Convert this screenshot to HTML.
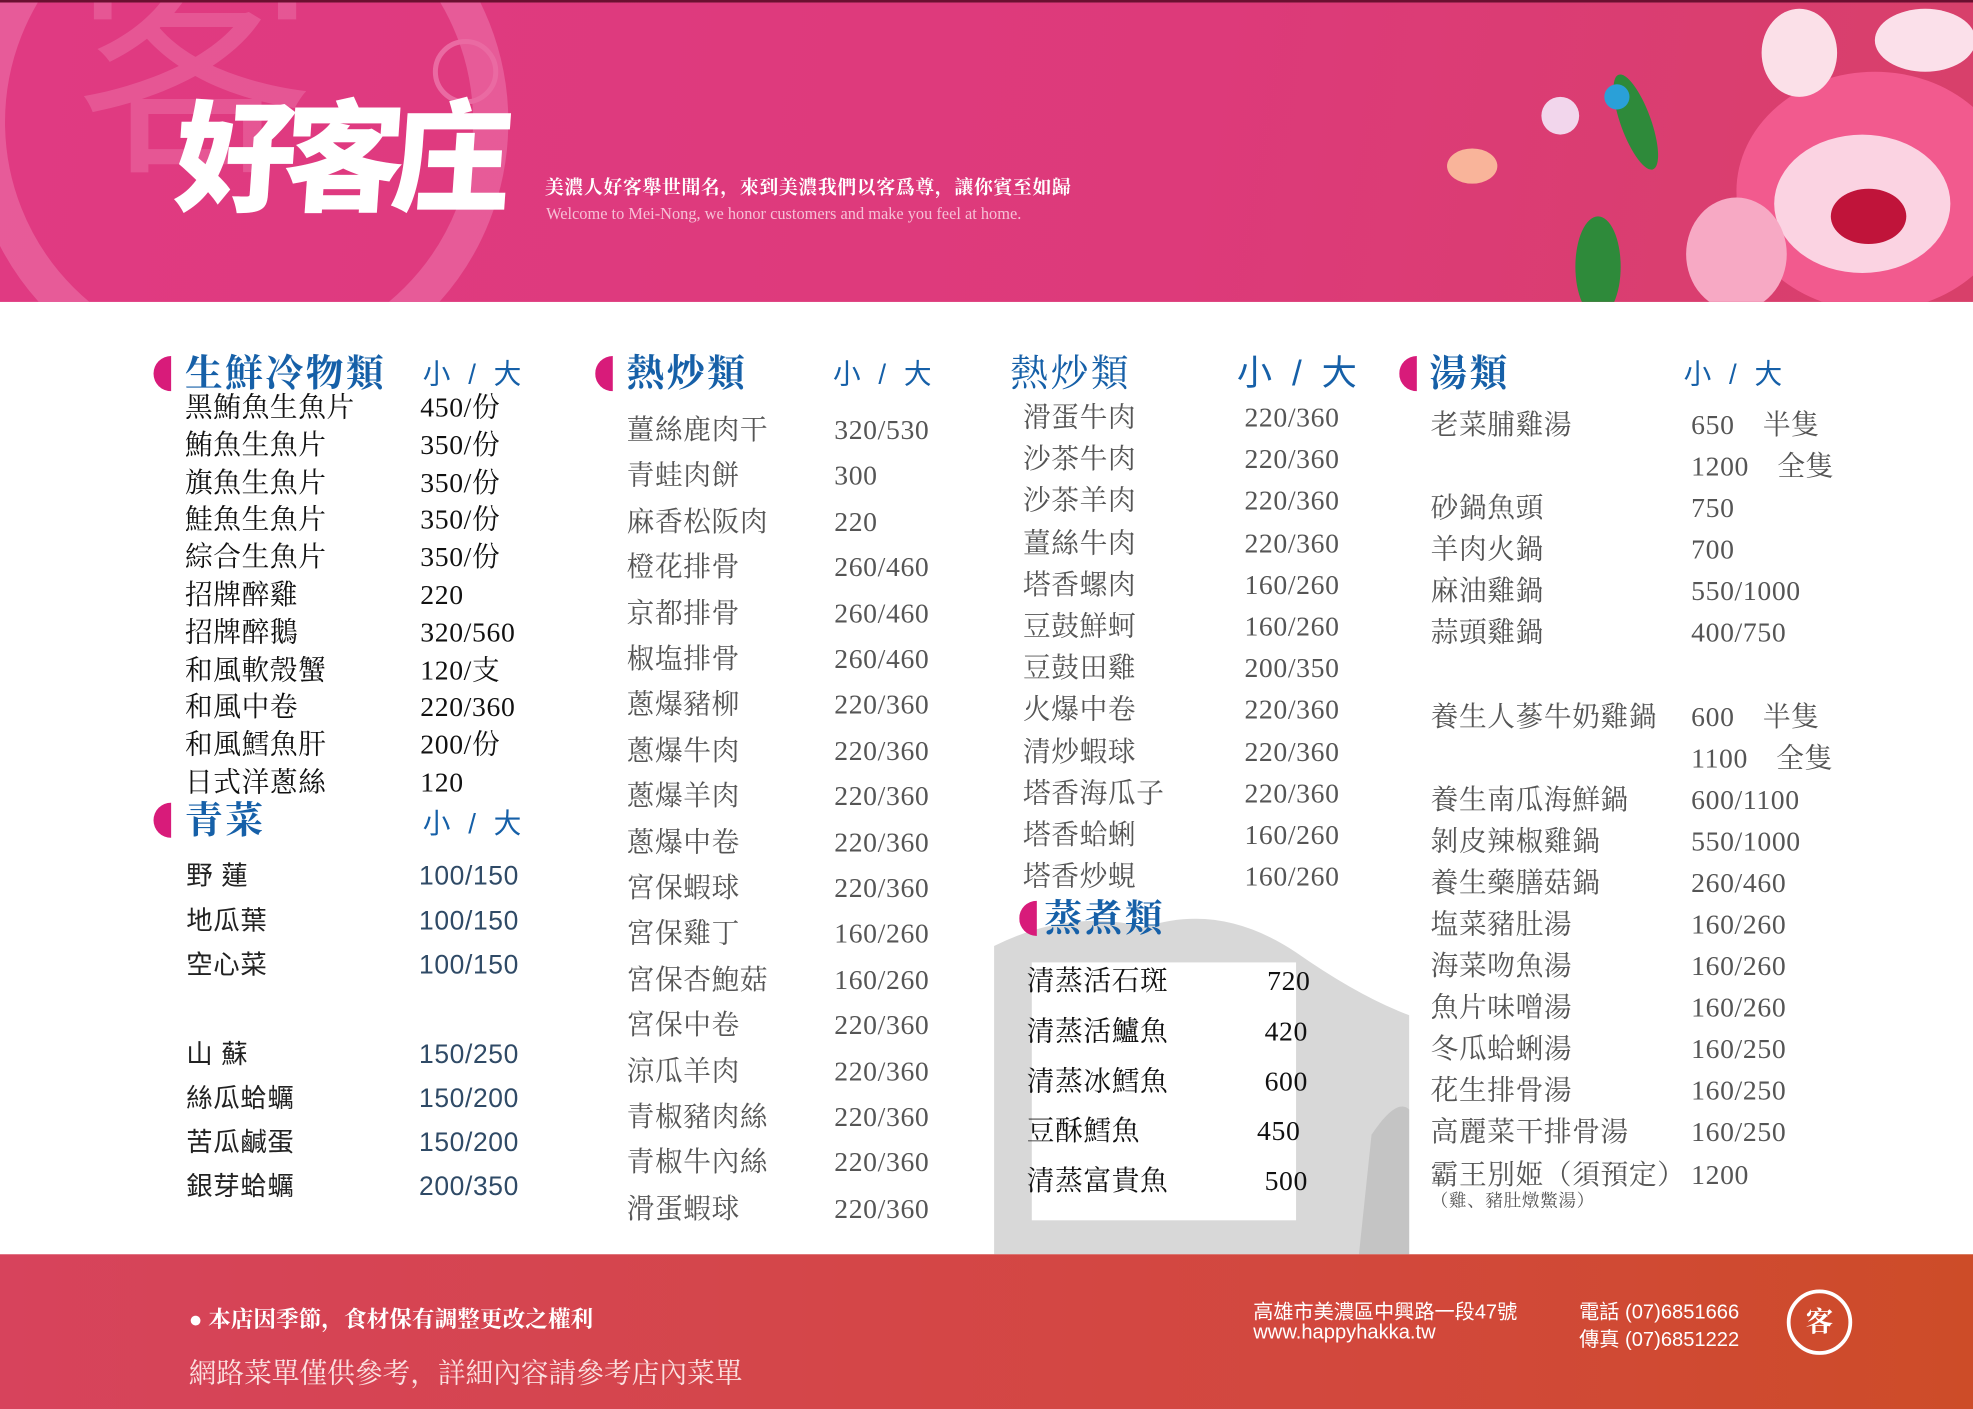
<!DOCTYPE html>
<html><head><meta charset="utf-8">
<style>
html,body{margin:0;padding:0;width:1973px;height:1409px;overflow:hidden;background:#fff}
#wrap{position:absolute;left:0;top:0;width:1568px;height:1120px;transform:scale(1.25829,1.25804);transform-origin:0 0;background:#fff;overflow:hidden;font-family:"Liberation Serif","Noto Serif CJK SC",serif}
.abs{position:absolute;white-space:nowrap}
#hdr{left:0;top:0;width:1568px;height:238px;background:linear-gradient(100deg,#e03a82 0%,#dd3a7a 60%,#d8406a 100%);border-top:2px solid #6a1030}
#ftr{left:0;top:997px;width:1568px;height:123px;background:linear-gradient(90deg,#d7435c 0%,#d2483c 70%,#cd4c28 100%)}
.dot{position:absolute;width:28px;height:28px;border-radius:50%;background:#d81b7a;clip-path:inset(0 50% 0 0)}
.ttl{position:absolute;color:#1660a8;font-weight:bold;font-size:30px;line-height:30px;letter-spacing:2px;font-family:"Liberation Serif","Noto Serif CJK SC",serif}
.sz{position:absolute;color:#1660a8;font-size:22px;line-height:22px;font-family:"Liberation Sans","Noto Sans CJK SC",sans-serif;word-spacing:8px}
.it{position:absolute;font-size:22px;line-height:24px;white-space:nowrap;letter-spacing:0.5px}
</style></head><body>
<div id="wrap">
<div id="hdr" class="abs">
  <svg class="abs" style="left:0;top:0" width="420" height="238">
    <circle cx="190" cy="95" r="200" fill="none" stroke="#ea6aa2" stroke-width="28" opacity="0.7"/>
    <text x="60" y="120" font-size="190" fill="#ea6aa2" opacity="0.6" font-family="Noto Sans CJK SC">客</text>
    <circle cx="370" cy="55" r="24" fill="none" stroke="#ea6aa2" stroke-width="4"/>
  </svg>
  <div class="abs" style="left:140px;top:62px;font-size:96px;line-height:110px;color:#fff;font-weight:900;font-family:'Noto Sans CJK SC',sans-serif;letter-spacing:-10px;transform:skewX(-4deg)">好客庄</div>
  <div class="abs" style="left:433px;top:136px;font-size:15px;color:#fff;font-weight:bold;letter-spacing:0.5px">美濃人好客舉世聞名，來到美濃我們以客爲尊，讓你賓至如歸</div>
  <div class="abs" style="left:434px;top:160px;font-size:13px;color:#f6c0d6">Welcome to Mei-Nong, we honor customers and make you feel at home.</div>
  <svg class="abs" style="left:1130px;top:0" width="438" height="238">
    <ellipse cx="360" cy="150" rx="110" ry="95" fill="#f25a8e"/>
    <ellipse cx="350" cy="160" rx="70" ry="55" fill="#fbd3e2"/>
    <ellipse cx="355" cy="170" rx="30" ry="22" fill="#c0143a"/>
    <ellipse cx="250" cy="200" rx="40" ry="45" fill="#f7a9c4"/>
    <ellipse cx="300" cy="40" rx="30" ry="35" fill="#fbe0e8"/>
    <ellipse cx="400" cy="30" rx="40" ry="25" fill="#fbe0ea"/>
    <ellipse cx="40" cy="130" rx="20" ry="14" fill="#f9b49a"/>
    <ellipse cx="170" cy="95" rx="12" ry="40" fill="#2e8a3a" transform="rotate(-20 170 95)"/>
    <ellipse cx="140" cy="210" rx="18" ry="40" fill="#2e8a3a"/>
    <circle cx="155" cy="75" r="10" fill="#2aa0d8"/>
    <circle cx="110" cy="90" r="15" fill="#f2d6ec"/>
  </svg>
</div>

<svg class="abs" style="left:790px;top:712px" width="330" height="285">
  <path d="M0 40 Q60 10 120 25 Q180 5 240 45 Q290 80 330 95 L330 285 L0 285 Z" fill="#d8d8d8"/>
  <path d="M300 190 Q320 160 330 170 L330 285 L290 285 Z" fill="#c4c4c4"/>
  <rect x="30" y="53" width="210" height="205" fill="#fff"/>
</svg>

<div class="dot" style="left:122px;top:283px"></div>
<div class="ttl" style="left:147px;top:283px">生鮮冷物類</div>
<div class="sz" style="left:336px;top:287px">小 / 大</div>
<div class="dot" style="left:122px;top:638px"></div>
<div class="ttl" style="left:147px;top:638px">青菜</div>
<div class="sz" style="left:336px;top:644px">小 / 大</div>
<div class="dot" style="left:473px;top:283px"></div>
<div class="ttl" style="left:498px;top:283px">熱炒類</div>
<div class="sz" style="left:662px;top:287px">小 / 大</div>
<div class="ttl" style="left:803px;top:283px;font-weight:normal">熱炒類</div>
<div class="sz" style="left:983px;top:283px;font-size:28px;line-height:28px">小 / 大</div>
<div class="dot" style="left:810px;top:716px"></div>
<div class="ttl" style="left:830px;top:716px">蒸煮類</div>
<div class="dot" style="left:1112px;top:283px"></div>
<div class="ttl" style="left:1136px;top:283px">湯類</div>
<div class="sz" style="left:1338px;top:287px">小 / 大</div>

<div id="items"></div>

<div id="ftr" class="abs">
  <div class="abs" style="left:150px;top:38px;font-size:18px;color:#fff;font-weight:bold">● 本店因季節，食材保有調整更改之權利</div>
  <div class="abs" style="left:150px;top:78px;font-size:22px;color:#fbe0e0">網路菜單僅供參考，詳細內容請參考店內菜單</div>
  <div class="abs" style="left:996px;top:32px;font-size:16px;color:#fff;font-family:'Liberation Sans','Noto Sans CJK SC',sans-serif">高雄市美濃區中興路一段47號</div>
  <div class="abs" style="left:996px;top:54px;font-size:16px;color:#fff;font-family:'Liberation Sans',sans-serif">www.happyhakka.tw</div>
  <div class="abs" style="left:1255px;top:32px;font-size:16px;color:#fff;font-family:'Liberation Sans','Noto Sans CJK SC',sans-serif">電話 (07)6851666</div>
  <div class="abs" style="left:1255px;top:54px;font-size:16px;color:#fff;font-family:'Liberation Sans','Noto Sans CJK SC',sans-serif">傳真 (07)6851222</div>
  <div class="abs" style="left:1420px;top:28px;width:52px;height:52px;border:3px solid #fff;border-radius:50%;box-sizing:border-box;color:#fff;font-size:22px;line-height:46px;text-align:center;font-weight:bold">客</div>
</div>
</div>
<script>
const col1 = [["黑鮪魚生魚片","450/份"],["鮪魚生魚片","350/份"],["旗魚生魚片","350/份"],["鮭魚生魚片","350/份"],["綜合生魚片","350/份"],["招牌醉雞","220"],["招牌醉鵝","320/560"],["和風軟殼蟹","120/支"],["和風中卷","220/360"],["和風鱈魚肝","200/份"],["日式洋蔥絲","120"]];
const veg = [["野 蓮","100/150",697],["地瓜葉","100/150",733],["空心菜","100/150",768],["山 蘇","150/250",839],["絲瓜蛤蠣","150/200",874],["苦瓜鹹蛋","150/200",909],["銀芽蛤蠣","200/350",944]];
const col2 = [["薑絲鹿肉干","320/530"],["青蛙肉餅","300"],["麻香松阪肉","220"],["橙花排骨","260/460"],["京都排骨","260/460"],["椒塩排骨","260/460"],["蔥爆豬柳","220/360"],["蔥爆牛肉","220/360"],["蔥爆羊肉","220/360"],["蔥爆中卷","220/360"],["宮保蝦球","220/360"],["宮保雞丁","160/260"],["宮保杏鮑菇","160/260"],["宮保中卷","220/360"],["涼瓜羊肉","220/360"],["青椒豬肉絲","220/360"],["青椒牛內絲","220/360"],["滑蛋蝦球","220/360"]];
const col3 = [["滑蛋牛肉","220/360"],["沙茶牛肉","220/360"],["沙茶羊肉","220/360"],["薑絲牛肉","220/360"],["塔香螺肉","160/260"],["豆鼓鮮蚵","160/260"],["豆鼓田雞","200/350"],["火爆中卷","220/360"],["清炒蝦球","220/360"],["塔香海瓜子","220/360"],["塔香蛤蜊","160/260"],["塔香炒蜆","160/260"]];
const steam = [["清蒸活石斑","720",1007],["清蒸活鱸魚","420",1005],["清蒸冰鱈魚","600",1005],["豆酥鱈魚","450",999],["清蒸富貴魚","500",1005]];
const soup = [["老菜脯雞湯","650　半隻",338],["","1200　全隻",371],["砂鍋魚頭","750",404],["羊肉火鍋","700",437],["麻油雞鍋","550/1000",470],["蒜頭雞鍋","400/750",503],["養生人蔘牛奶雞鍋","600　半隻",570],["","1100　全隻",603],["養生南瓜海鮮鍋","600/1100",636],["剝皮辣椒雞鍋","550/1000",669],["養生藥膳菇鍋","260/460",702],["塩菜豬肚湯","160/260",735],["海菜吻魚湯","160/260",768],["魚片味噌湯","160/260",801],["冬瓜蛤蜊湯","160/250",834],["花生排骨湯","160/250",867],["高麗菜干排骨湯","160/250",900],["霸王別姬（須預定）","1200",934]];
const host = document.getElementById('items');
function put(txt, x, y, color, fam, size, name){
  const d = document.createElement('div');
  d.className = 'it';
  d.textContent = txt;
  d.style.left = x + 'px';
  d.style.top = (y - 12) + 'px';
  d.style.color = color;
  if (fam) d.style.fontFamily = fam;
  if (size) d.style.fontSize = size + 'px';
  
  
  host.appendChild(d);
}
const SANS = '"Liberation Sans","Noto Sans CJK TC",sans-serif';
col1.forEach((r,i)=>{ const y = 324 + i*29.8; put(r[0],147,y,'#111',null,22,'menu-item-name'); put(r[1],334,y,'#111',null,22,'menu-item-price'); });
veg.forEach(r=>{ put(r[0],148,r[2],'#222',SANS,21,'menu-item-name'); put(r[1],333,r[2],'#2f4a66',SANS,21,'menu-item-price'); });
col2.forEach((r,i)=>{ const y = 342 + i*36.4; put(r[0],498,y,'#555',null,22,'menu-item-name'); put(r[1],663,y,'#555',null,22,'menu-item-price'); });
col3.forEach((r,i)=>{ const y = 332 + i*33.2; put(r[0],813,y,'#555',null,22,'menu-item-name'); put(r[1],989,y,'#555',null,22,'menu-item-price'); });
steam.forEach((r,i)=>{ const y = 780 + i*39.8; put(r[0],816,y,'#111',null,22,'menu-item-name'); put(r[1],r[2],y,'#111',null,22,'menu-item-price'); });
soup.forEach(r=>{ if (r[0]) put(r[0],1137,r[2],'#555',null,22,'menu-item-name'); put(r[1],1344,r[2],'#555',null,22,'menu-item-price'); });
put('（雞、豬肚燉鱉湯）',1137,956,'#555',null,14,'menu-item-note');
</script>
</body></html>
